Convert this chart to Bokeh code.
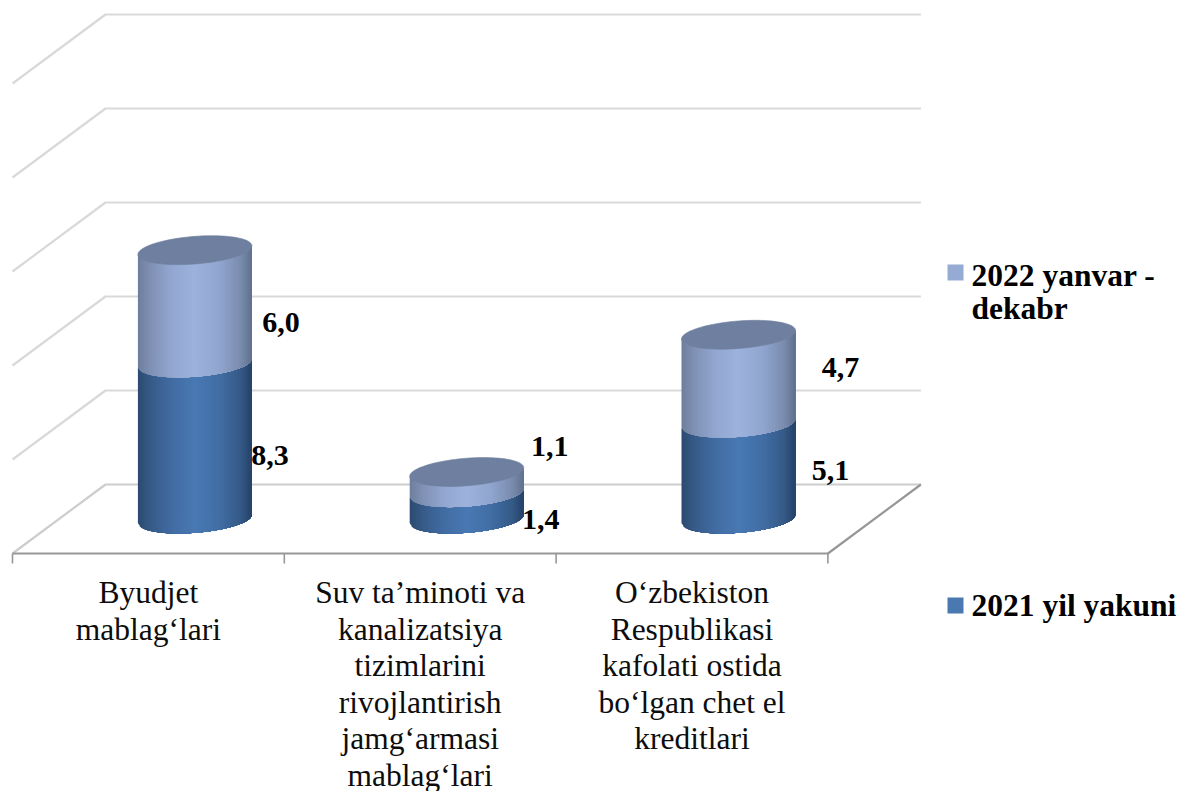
from bokeh.plotting import figure
from bokeh.models import Range1d, ColumnDataSource
from bokeh.core.properties import value
from bokeh.embed import file_html
from bokeh.resources import INLINE
import math

# ---- data ----
categories = [
    ["Byudjet", "mablag‘lari"],
    ["Suv ta’minoti va", "kanalizatsiya", "tizimlarini", "rivojlantirish", "jamg‘armasi", "mablag‘lari"],
    ["O‘zbekiston", "Respublikasi", "kafolati ostida", "bo‘lgan chet el", "kreditlari"],
]
values_2021 = [8.3, 1.4, 5.1]
values_2022 = [6.0, 1.1, 4.7]
labels_2021 = ["8,3", "1,4", "5,1"]
labels_2022 = ["6,0", "1,1", "4,7"]
grid_ticks = [0, 5, 10, 15, 20, 25]
series_names = [["2022 yanvar -", "dekabr"], ["2021 yil yakuni"]]

# ---- layout (pixels on the page) ----
W, H = 1182, 791
PX_X0, PX_CAT = 12.0, 271.8           # front-left corner of floor, width of a category
PX_Y0, PX_UNIT = 484.0, 18.8          # back wall zero line, pixels per value unit
DEPTH_X, DEPTH_Y = 93.0, 69.0
R_X, R_Y, SHEAR = 57.0, 13.8, 4.3     # cylinder ellipse in pixels
N = 60


def X(px):
    return (px - PX_X0) / PX_CAT


def Y(py):
    return (PX_Y0 - py) / PX_UNIT


p = figure(width=W, height=H, output_backend="svg", toolbar_location=None,
           x_range=Range1d(X(0), X(W)), y_range=Range1d(Y(H), Y(0)),
           min_border=0, outline_line_color=None)
p.axis.visible = False
p.grid.visible = False
p.background_fill_color = "white"
p.border_fill_color = "white"

DX, DY = DEPTH_X / PX_CAT, DEPTH_Y / PX_UNIT
n_cat = len(categories)

# walls
GRID = "#d9d9d9"
p.multi_line(xs=[[0, DX, n_cat + DX] for t in grid_ticks[1:]],
             ys=[[t - DY, t, t] for t in grid_ticks[1:]],
             line_color=GRID, line_width=2.2, line_join="round")
# floor
p.line([0, DX, n_cat + DX], [grid_ticks[0] - DY, grid_ticks[0], grid_ticks[0]],
       line_color="#cdcdcd", line_width=2.2)
p.line([0, n_cat, n_cat + DX], [-DY, -DY, 0], line_color="#979797", line_width=2.2)
# category ticks
tick_len = 10 / PX_UNIT
p.multi_line(xs=[[c, c] for c in range(n_cat + 1)],
             ys=[[-DY, -DY - tick_len] for c in range(n_cat + 1)],
             line_color="#979797", line_width=1.6)


# cylinder shading
def mix(stops, t):
    for (t0, c0), (t1, c1) in zip(stops, stops[1:]):
        if t <= t1:
            f = (t - t0) / (t1 - t0)
            return "#%02x%02x%02x" % tuple(round(a + (b - a) * f) for a, b in zip(c0, c1))
    return "#%02x%02x%02x" % stops[-1][1]


DARK = [(0, (0x2b, 0x4a, 0x70)), (0.12, (0x37, 0x5c, 0x8a)), (0.3, (0x41, 0x6c, 0xa2)),
        (0.5, (0x49, 0x79, 0xb3)), (0.72, (0x41, 0x6d, 0xa3)), (0.9, (0x35, 0x5a, 0x87)),
        (1, (0x24, 0x41, 0x68))]
LIGHT = [(0, (0x6e, 0x7e, 0x9c)), (0.12, (0x80, 0x92, 0xb6)), (0.3, (0x92, 0xa7, 0xd0)),
         (0.5, (0x9c, 0xb3, 0xdd)), (0.72, (0x90, 0xa5, 0xce)), (0.9, (0x7a, 0x8c, 0xae)),
         (1, (0x5f, 0x6f, 0x8d))]
TOP_FACE = "#6f7f9f"


def arc(px_dx, v):
    """Lower arc of the cylinder's ellipse at height v, in value units."""
    q = max(0.0, 1 - (px_dx / R_X) ** 2)
    return v - DY / 2 + (SHEAR * px_dx / R_X - R_Y * math.sqrt(q)) / PX_UNIT


def segment(c, v0, v1, stops):
    # each strip runs on to the right edge and the next paints over it, so no seams show
    cx = c + 0.5 + DX / 2
    xs, ys, cols = [], [], []
    for i in range(N):
        d0 = -R_X + 2 * R_X * i / N
        samples = [d0 + (R_X - d0) * j / 30 for j in range(31)]
        px = [cx + m / PX_CAT for m in samples]
        xs.append(px + px[::-1])
        ys.append([arc(m, v0) for m in samples] + [arc(m, v1) for m in samples[::-1]])
        cols.append(mix(stops, (i + 0.5) / N))
    src = ColumnDataSource(dict(xs=xs, ys=ys, c=cols))
    p.patches("xs", "ys", source=src, fill_color="c", line_color=None)


def top_ellipse(c, v):
    cx = c + 0.5 + DX / 2
    xs, ys = [], []
    for i in range(120):
        t = 2 * math.pi * i / 120
        dx = R_X * math.cos(t)
        xs.append(cx + dx / PX_CAT)
        ys.append(v - DY / 2 + (SHEAR * dx / R_X + R_Y * math.sin(t)) / PX_UNIT)
    p.patch(xs, ys, fill_color=TOP_FACE, line_color=TOP_FACE, line_width=0.6)


for c, (a, b) in enumerate(zip(values_2021, values_2022)):
    segment(c, 0, a, DARK)
    segment(c, a, a + b, LIGHT)
    top_ellipse(c, a + b)

# value labels, offset in pixels from the middle of their segment
off_2021 = [(75, 15), (74, 13.5), (92, -0.5)]
off_2022 = [(86, 15.5), (83, -35.5), (102, -11.5)]
for c, (a, b) in enumerate(zip(values_2021, values_2022)):
    cx = c + 0.5 + DX / 2
    for mid, txt, (ox, oy) in ((a / 2, labels_2021[c], off_2021[c]),
                               (a + b / 2, labels_2022[c], off_2022[c])):
        p.text([cx + ox / PX_CAT], [mid - DY / 2 - oy / PX_UNIT], text=[txt],
               text_font=value("Liberation Serif"), text_font_style="bold",
               text_font_size="30px", text_color="black",
               text_align="center", text_baseline="middle")

# category labels
LINE_H = 36.5
for c, lines in enumerate(categories):
    for i, ln in enumerate(lines):
        p.text([c + 0.5], [Y(592 + i * LINE_H)], text=[ln],
               text_font=value("Liberation Serif"), text_font_size="31.5px",
               text_color="#0d0d0d", text_align="center", text_baseline="middle")

# legend
sw_colors = ["#95abd4", "#4a78b0"]
sw_y = [272, 605]
text_y = [275, 605]
for col, y0, ty, lines in zip(sw_colors, sw_y, text_y, series_names):
    p.scatter([X(955)], [Y(y0)], marker="square", size=16, fill_color=col, line_color=None)
    for i, ln in enumerate(lines):
        p.text([X(971)], [Y(ty + i * 33)], text=[ln],
               text_font=value("Liberation Serif"), text_font_style="bold",
               text_font_size="31.5px", text_color="black",
               text_align="left", text_baseline="middle")

open("out.html", "w").write(file_html(p, INLINE))
